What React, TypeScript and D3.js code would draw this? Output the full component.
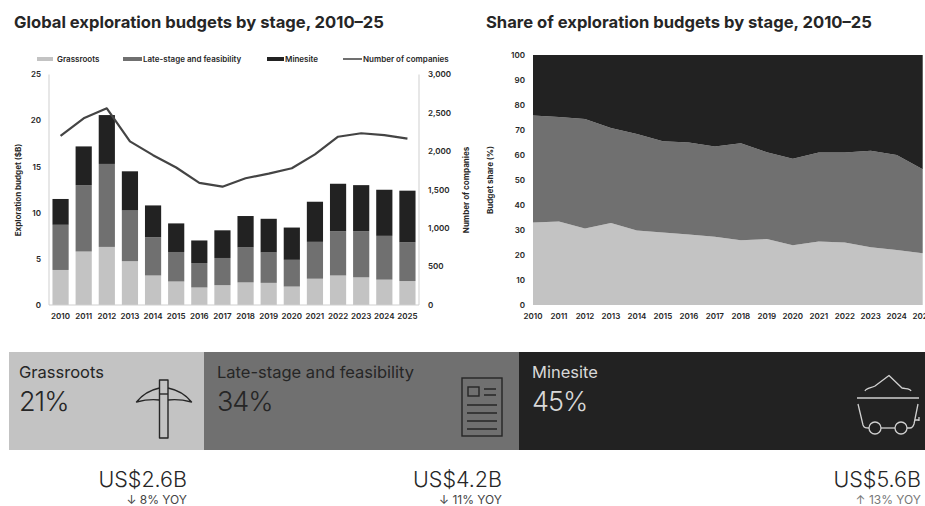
import React from "react";
import * as d3 from "d3";

// Annual budgets in US$ billions and active company counts
const years = d3.range(2010, 2026).map(String);
const grassroots = [3.8, 5.8, 6.3, 4.75, 3.2, 2.55, 1.9, 2.15, 2.45, 2.4, 2.0, 2.85, 3.2, 3.0, 2.75, 2.6];
const lateStage = [4.9, 7.2, 9.0, 5.5, 4.15, 3.2, 2.65, 2.95, 3.8, 3.3, 2.9, 4.0, 4.8, 5.0, 4.75, 4.2];
const minesite = [2.8, 4.2, 5.3, 4.25, 3.45, 3.1, 2.45, 3.0, 3.4, 3.65, 3.5, 4.35, 5.15, 5.0, 5.0, 5.6];
const companies = [2200, 2430, 2560, 2130, 1950, 1790, 1590, 1540, 1650, 1710, 1780, 1960, 2190, 2235, 2210, 2165];

// Share of each year's budget, percent
const grassrootsShare = [33, 33.4, 30.6, 32.8, 29.8, 29, 28.2, 27.3, 25.9, 26.4, 23.9, 25.4, 25, 23.1, 22, 20.7];
const lateStageShare = [42.8, 41.8, 43.8, 38, 38.6, 36.5, 36.8, 36.1, 38.8, 34.7, 34.6, 35.6, 36, 38.6, 38, 33.6];
const minesiteShare = [24.2, 24.8, 25.6, 29.2, 31.6, 34.5, 35, 36.6, 35.3, 38.9, 41.5, 39, 39, 38.3, 40, 45.7];

// 2025 summary cards
const stageNames = ["Grassroots", "Late-stage and feasibility", "Minesite"];
const stageShares = [21, 34, 45];
const stageBudgets = ["US$2.6B", "US$4.2B", "US$5.6B"];
const stageChanges = ["↓ 8% YOY", "↓ 11% YOY", "↑ 13% YOY"];
const legendLabels = ["Grassroots", "Late-stage and feasibility", "Minesite", "Number of companies"];

const LIGHT = "#c3c3c3";
const MID = "#707070";
const DARK = "#222222";
const AXIS = "#cfcfcf";
const INK = "#262626";
const FONT = "Inter, 'Noto Sans', sans-serif";
const stageColors = [LIGHT, MID, DARK];

type Row = { year: string; grassroots: number; late: number; mine: number };
const keys = ["grassroots", "late", "mine"] as const;

const budgetRows: Row[] = years.map((year, i) => ({ year, grassroots: grassroots[i], late: lateStage[i], mine: minesite[i] }));
const shareRows: Row[] = years.map((year, i) => ({ year, grassroots: grassrootsShare[i], late: lateStageShare[i], mine: minesiteShare[i] }));

const stackGen = d3.stack<Row>().keys(keys);

// Left panel scales
const xBand = d3.scaleBand<string>().domain(years).range([49, 419]).paddingInner(0.3).paddingOuter(0.15);
const yBudget = d3.scaleLinear().domain([0, 25]).range([305, 74.5]);
const yCompanies = d3.scaleLinear().domain([0, 3000]).range([305, 74.5]);

// Right panel scales
const xShare = d3.scalePoint<string>().domain(years).range([533, 922.7]);
const yShare = d3.scaleLinear().domain([0, 100]).range([305, 55]);

// Cards are laid out proportionally along the strip
const cardEdge = d3.scaleLinear().domain([0, 21, 55, 100]).range([9, 204, 519, 925]);

const companyLine = d3
  .line<number>()
  .x((_, i) => (xBand(years[i]) as number) + xBand.bandwidth() / 2)
  .y((d) => yCompanies(d));

const shareArea = d3
  .area<d3.SeriesPoint<Row>>()
  .x((d) => xShare(d.data.year) as number)
  .y0((d) => yShare(d[0]))
  .y1((d) => yShare(d[1]));

const legendItems = [
  { swatch: 37, swatchEnd: 53, text: 57 },
  { swatch: 123, swatchEnd: 142, text: 143 },
  { swatch: 267, swatchEnd: 284, text: 285 },
  { swatch: 343, swatchEnd: 362, text: 363 },
];

function PickIcon({ stroke }: { stroke: string }) {
  return (
    <g fill="none" stroke={stroke} strokeWidth={1.4} strokeLinejoin="round">
      <rect x={159.5} y={380} width={8.5} height={58} />
      <path d="M159.5 388 C150 390 142 395 136.5 402 C144 400 152 399 159.5 400" />
      <path d="M168 388 C178 390 186 395 191.5 402 C184 400 176 399 168 400" />
      <path d="M159.5 394 H168" />
    </g>
  );
}

function ReportIcon({ stroke }: { stroke: string }) {
  return (
    <g fill="none" stroke={stroke} strokeWidth={1.4}>
      <rect x={462} y={378} width={40} height={58} />
      <rect x={468} y={387} width={11} height={9} />
      <path d="M484 389 H496 M484 395 H496 M467 405 H497 M467 413 H497 M467 421 H497 M467 429 H497" />
    </g>
  );
}

function CartIcon({ stroke }: { stroke: string }) {
  return (
    <g fill="none" stroke={stroke} strokeWidth={1.3} strokeLinejoin="round">
      <path d="M865 391 C866 388 872 388 875 386 L889 375.5 L902 388 C906 389 910 388 911 391" />
      <path d="M857 398 H919" strokeWidth={1.6} />
      <path d="M858 404 L863 425 C864 428 866 428 869 428" />
      <path d="M881 428 H895" />
      <path d="M907 428 H910 C912 428 913 427 914 424 L918 404" />
      <path d="M915 420 H919 M919 417 V421" />
      <circle cx={875} cy={428} r={6} />
      <circle cx={901} cy={428} r={6} />
    </g>
  );
}

export default function App() {
  const budgetStack = stackGen(budgetRows);
  const shareStack = stackGen(shareRows);

  return (
    <svg
      width={925}
      height={506}
      viewBox="0 0 925 506"
      style={{ position: "absolute", left: 0, top: 0, display: "block", background: "#fff", fontFamily: FONT }}
    >
      <text x={14} y={28} fontSize={16.6} fontWeight={700} fill={INK}>Global exploration budgets by stage, 2010–25</text>
      <text x={486} y={28} fontSize={16.6} fontWeight={700} fill={INK}>Share of exploration budgets by stage, 2010–25</text>

      {/* Legend */}
      {legendLabels.map((label, i) => {
        const item = legendItems[i];
        return (
          <g key={label}>
            {i < 3 ? (
              <rect x={item.swatch} y={57} width={item.swatchEnd - item.swatch} height={4} fill={stageColors[i]} />
            ) : (
              <line x1={item.swatch} x2={item.swatchEnd} y1={59} y2={59} stroke={MID} strokeWidth={2} />
            )}
            <text x={item.text} y={62} fontSize={8} fontWeight={600} fill={INK}>{label}</text>
          </g>
        );
      })}

      {/* Stacked budget bars */}
      {budgetStack.map((series, s) => (
        <g key={series.key} fill={stageColors[s]}>
          {series.map((d) => (
            <rect
              key={d.data.year}
              x={xBand(d.data.year)}
              width={xBand.bandwidth()}
              y={yBudget(d[1])}
              height={yBudget(d[0]) - yBudget(d[1])}
            />
          ))}
        </g>
      ))}

      {/* Left panel frame */}
      <g stroke={AXIS} strokeWidth={1} fill="none">
        <line x1={49} x2={49} y1={yBudget(25)} y2={yBudget(0)} />
        <line x1={419} x2={419} y1={yBudget(25)} y2={yBudget(0)} />
        <line x1={49} x2={419} y1={yBudget(0)} y2={yBudget(0)} />
      </g>

      <path d={companyLine(companies) as string} fill="none" stroke="#444" strokeWidth={2.2} strokeLinejoin="round" />

      <g fontSize={8} fontWeight={600} fill={INK}>
        {yBudget.ticks(5).map((t) => (
          <text key={t} x={41} y={yBudget(t)} dy="0.35em" textAnchor="end">{t}</text>
        ))}
        {yCompanies.ticks(6).map((t) => (
          <text key={t} x={428} y={yCompanies(t)} dy="0.35em">{d3.format(",")(t)}</text>
        ))}
        {years.map((y) => (
          <text key={y} x={(xBand(y) as number) + xBand.bandwidth() / 2} y={316.5} dy="0.35em" textAnchor="middle">{y}</text>
        ))}
      </g>
      <text transform="translate(18,190) rotate(-90)" textAnchor="middle" dy="0.35em" fontSize={8} fontWeight={700} fill={INK}>Exploration budget ($B)</text>
      <text transform="translate(466,190) rotate(-90)" textAnchor="middle" dy="0.35em" fontSize={8} fontWeight={700} fill={INK}>Number of companies</text>

      {/* Stacked share areas */}
      {shareStack.map((series, s) => (
        <path key={series.key} d={shareArea(series) as string} fill={stageColors[s]} />
      ))}
      <g fontSize={8} fontWeight={600} fill={INK}>
        {yShare.ticks(10).map((t) => (
          <text key={t} x={525} y={yShare(t)} dy="0.35em" textAnchor="end">{t}</text>
        ))}
        {years.map((y) => (
          <text key={y} x={xShare(y)} y={316.5} dy="0.35em" textAnchor="middle">{y}</text>
        ))}
      </g>
      <text transform="translate(490.5,180) rotate(-90)" textAnchor="middle" dy="0.35em" fontSize={8} fontWeight={700} fill={INK}>Budget share (%)</text>

      {/* Summary cards */}
      {stageNames.map((name, i) => {
        const cumulative = d3.sum(stageShares.slice(0, i));
        const left = cardEdge(cumulative);
        const right = cardEdge(cumulative + stageShares[i]);
        const textFill = i === 2 ? "#d8d8d8" : INK;
        const figureRight = i === 2 ? 921 : i === 1 ? 502 : 187;
        const inset = i === 0 ? 10 : 13;
        return (
          <g key={name}>
            <rect x={left} y={352} width={right - left} height={98} fill={stageColors[i]} />
            <text x={left + inset} y={378} fontSize={16.5} fontWeight={400} fill={textFill}>{name}</text>
            <text x={left + inset} y={411} fontSize={27} fontWeight={300} letterSpacing={-1} fill={textFill}>{stageShares[i]}%</text>
            <text x={figureRight} y={487} fontSize={21.5} fontWeight={300} textAnchor="end" fill={INK}>{stageBudgets[i]}</text>
            <text x={figureRight} y={504} fontSize={12} fontWeight={400} textAnchor="end" fill={i === 2 ? "#777" : "#444"}>{stageChanges[i]}</text>
          </g>
        );
      })}
      <PickIcon stroke={INK} />
      <ReportIcon stroke={INK} />
      <CartIcon stroke="#d0d0d0" />
    </svg>
  );
}
